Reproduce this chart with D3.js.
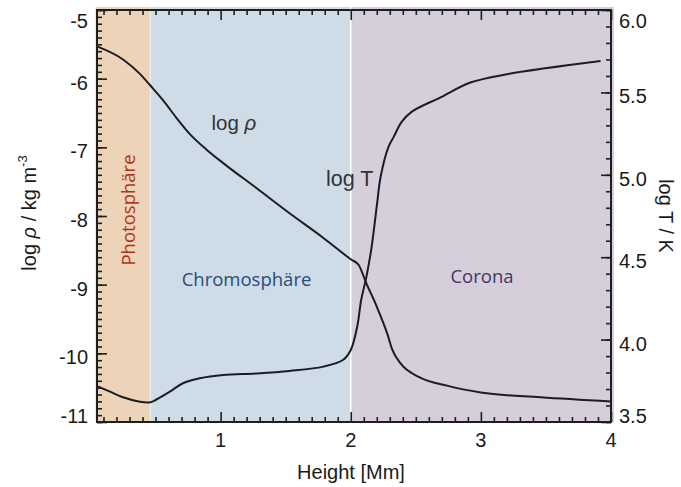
<!DOCTYPE html>
<html>
<head>
<meta charset="utf-8">
<script src="https://cdn.jsdelivr.net/npm/d3@7"></script>
<style>
  body { margin: 0; background: #fff; }
  svg { display: block; }
  .ax path { display: none; }
  .ax line { stroke: #1e1e1e; stroke-width: 1.6; }
  .tick-label { font-family: "Liberation Sans", Arial, sans-serif; font-size: 20px; fill: #1a1a1a; }
</style>
</head>
<body>
<svg id="chart" width="681" height="487"></svg>
<script>
// solar atmosphere: density and temperature vs height

// regions
var regionNames = ["Photosphäre", "Chromosphäre", "Corona"];
var regionFrom = [0.05, 0.46, 2.0];
var regionTo = [0.46, 2.0, 4.0];

// log rho curve (left axis)
var heightRho = [0.05, 0.25, 0.38, 0.46, 0.56, 0.66, 0.76, 0.89, 1.02, 1.28, 1.53, 1.79,
    2.0, 2.06, 2.12, 2.2, 2.28, 2.32, 2.38, 2.53, 2.74, 3.0, 3.46, 4.0];
var logRho = [-5.53, -5.72, -5.93, -6.10, -6.32, -6.57, -6.80, -7.03, -7.23, -7.60, -7.96, -8.32,
    -8.63, -8.71, -8.98, -9.32, -9.71, -9.95, -10.14, -10.35, -10.47, -10.57, -10.64, -10.70];

// log T curve (right axis)
var heightT = [0.05, 0.15, 0.25, 0.38, 0.46, 0.51, 0.61, 0.71, 0.84, 1.02, 1.28, 1.53, 1.79, 1.94,
    2.0, 2.05, 2.08, 2.12, 2.16, 2.2, 2.23, 2.29, 2.33, 2.39, 2.47, 2.69, 2.92, 3.2, 3.92];
var logT = [3.718, 3.684, 3.65, 3.623, 3.62, 3.638, 3.684, 3.735, 3.765, 3.785, 3.795, 3.81, 3.836, 3.876,
    3.937, 4.08, 4.24, 4.38, 4.56, 4.81, 4.99, 5.17, 5.23, 5.32, 5.383, 5.47, 5.56, 5.61, 5.69];

// tick labels
var heightTicks = [1, 2, 3, 4];
var rhoTicks = [-11, -10, -9, -8, -7, -6, -5];
var tempTicks = [3.5, 4.0, 4.5, 5.0, 5.5, 6.0];

(function(d3) {

    var svg = d3.select("#chart");
    var margin = {top: 10, right: 70, bottom: 65, left: 97};
    var width = 681 - margin.left - margin.right;
    var height = 487 - margin.top - margin.bottom;

    var x = d3.scaleLinear().domain([0.05, 4]).range([margin.left, margin.left + width]);
    var yRho = d3.scaleLinear().domain([-11, -5]).range([margin.top + height, margin.top]);
    var yT = d3.scaleLinear().domain([3.5, 6.0]).range([margin.top + height, margin.top]);

    var regionColors = ["#EDD4B9", "#CEDCE8", "#D6CEDB"];
    var textColors = ["#AE3418", "#2A4A7C", "#3E3862"];

    // background bands (slightly overhanging the frame like the original overlay)
    var bands = svg.append("g").attr("class", "bands");
    bands.selectAll("rect")
        .data(regionNames)
        .enter()
        .append("rect")
        .attr("x", function(d, i) { return i === 0 ? x(regionFrom[i]) - 1.5 : x(regionFrom[i]); })
        .attr("y", margin.top - 3)
        .attr("width", function(d, i) {
            return x(regionTo[i]) - x(regionFrom[i]) + (i === 2 ? 3 : 0) + (i === 0 ? 1.5 : 0);
        })
        .attr("height", height + 3)
        .style("fill", function(d, i) { return regionColors[i]; });

    // thin light seams between bands
    bands.append("line")
        .attr("x1", x(regionTo[0])).attr("x2", x(regionTo[0]))
        .attr("y1", margin.top - 3).attr("y2", margin.top + height)
        .style("stroke", "#fff").style("stroke-opacity", 0.35).style("stroke-width", 1.5);
    bands.append("line")
        .attr("x1", x(regionTo[1])).attr("x2", x(regionTo[1]))
        .attr("y1", margin.top - 3).attr("y2", margin.top + height)
        .style("stroke", "#fff").style("stroke-width", 1.5);

    // region names
    svg.append("text")
        .attr("transform", "translate(135," + ((margin.top + height / 2) - 6) + ") rotate(-90)")
        .attr("text-anchor", "middle")
        .style("font-family", "'Open Sans', sans-serif")
        .style("font-size", "18.5px")
        .style("fill", textColors[0])
        .text(regionNames[0]);
    svg.append("text")
        .attr("x", 246.5).attr("y", 286)
        .attr("text-anchor", "middle")
        .style("font-family", "'Open Sans', sans-serif")
        .style("font-size", "18.5px")
        .style("fill", textColors[1])
        .text(regionNames[1]);
    svg.append("text")
        .attr("x", 482).attr("y", 283)
        .attr("text-anchor", "middle")
        .style("font-family", "'Open Sans', sans-serif")
        .style("font-size", "18.5px")
        .style("fill", textColors[2])
        .text(regionNames[2]);

    // ticks, all pointing inward
    var minorH = d3.range(1, 40).map(function(d) { return d / 10; }).filter(function(d) { return d % 1 !== 0; });
    var minorRho = d3.range(-110, -49).map(function(d) { return d / 10; });
    var minorT = d3.range(35, 61).map(function(d) { return d / 10; });

    function axisGroup(gen, tx, ty) {
        svg.append("g").attr("class", "ax")
            .attr("transform", "translate(" + tx + "," + ty + ")")
            .call(gen);
    }

    axisGroup(d3.axisBottom(x).tickValues(minorH).tickSize(-5).tickFormat(""), 0, margin.top + height);
    axisGroup(d3.axisBottom(x).tickValues(heightTicks).tickSize(-10).tickFormat(""), 0, margin.top + height);
    axisGroup(d3.axisTop(x).tickValues(minorH).tickSize(-5).tickFormat(""), 0, margin.top);
    axisGroup(d3.axisTop(x).tickValues(heightTicks).tickSize(-10).tickFormat(""), 0, margin.top);
    axisGroup(d3.axisLeft(yRho).tickValues(minorRho).tickSize(-5).tickFormat(""), margin.left, 0);
    axisGroup(d3.axisLeft(yRho).tickValues(rhoTicks).tickSize(-10).tickFormat(""), margin.left, 0);
    axisGroup(d3.axisRight(yT).tickValues(minorT).tickSize(-5).tickFormat(""), margin.left + width, 0);
    axisGroup(d3.axisRight(yT).tickValues(tempTicks).tickSize(-10).tickFormat(""), margin.left + width, 0);

    // frame
    svg.append("rect")
        .attr("x", margin.left).attr("y", margin.top)
        .attr("width", width).attr("height", height)
        .style("fill", "none").style("stroke", "#1e1e1e").style("stroke-width", 2);

    // curves
    var rhoLine = d3.line()
        .x(function(d, i) { return x(heightRho[i]); })
        .y(function(d) { return yRho(d); })
        .curve(d3.curveMonotoneX);
    var tLine = d3.line()
        .x(function(d, i) { return x(heightT[i]); })
        .y(function(d) { return yT(d); })
        .curve(d3.curveCatmullRom.alpha(0.5));

    svg.append("path").datum(logRho).attr("d", rhoLine)
        .style("fill", "none").style("stroke", "#1c1c24").style("stroke-width", 2);
    svg.append("path").datum(logT).attr("d", tLine)
        .style("fill", "none").style("stroke", "#1c1c24").style("stroke-width", 2)
        .style("stroke-linejoin", "round");

    // curve labels
    var logRhoLabel = svg.append("text")
        .attr("x", x(0.93)).attr("y", yRho(-6.75))
        .style("font-family", "'Liberation Sans', Arial, sans-serif")
        .style("font-size", "20.5px").style("fill", "#333");
    logRhoLabel.append("tspan").text("log ");
    logRhoLabel.append("tspan").style("font-style", "italic").text("ρ");

    svg.append("text")
        .attr("x", x(1.81)).attr("y", yT(4.93))
        .style("font-family", "'Liberation Sans', Arial, sans-serif")
        .style("font-size", "21.5px").style("fill", "#333")
        .text("log T");

    // tick labels, kept inside the frame height like the original
    function labelY(py) {
        return Math.max(margin.top + 18, Math.min(margin.top + height + 1, py + 11));
    }

    svg.selectAll(".rho-label")
        .data(rhoTicks).enter().append("text")
        .attr("class", "tick-label")
        .attr("x", margin.left - 9)
        .attr("y", function(d) { return labelY(yRho(d)); })
        .attr("text-anchor", "end")
        .text(function(d) { return d; });

    svg.selectAll(".t-label")
        .data(tempTicks).enter().append("text")
        .attr("class", "tick-label")
        .attr("x", margin.left + width + 8)
        .attr("y", function(d) { return labelY(yT(d)); })
        .text(function(d) { return d.toFixed(1); });

    svg.selectAll(".h-label")
        .data(heightTicks).enter().append("text")
        .attr("class", "tick-label")
        .attr("x", function(d) { return x(d); })
        .attr("y", margin.top + height + 25)
        .attr("text-anchor", "middle")
        .text(function(d) { return d; });

    // axis titles
    svg.append("text")
        .attr("class", "tick-label")
        .attr("x", margin.left + width / 2 - 3)
        .attr("y", 479)
        .attr("text-anchor", "middle")
        .text("Height [Mm]");

    var leftTitle = svg.append("text")
        .attr("class", "tick-label")
        .attr("transform", "translate(36," + (margin.top + height / 2 - 3) + ") rotate(-90)")
        .attr("text-anchor", "middle");
    leftTitle.append("tspan").text("log ");
    leftTitle.append("tspan").style("font-style", "italic").text("ρ");
    leftTitle.append("tspan").text(" / kg m");
    leftTitle.append("tspan").attr("dy", -9).style("font-size", "13px").text("-3");

    svg.append("text")
        .attr("class", "tick-label")
        .attr("transform", "translate(659," + (margin.top + height / 2) + ") rotate(90)")
        .attr("text-anchor", "middle")
        .text("log T / K");

})(d3);
</script>
</body>
</html>
